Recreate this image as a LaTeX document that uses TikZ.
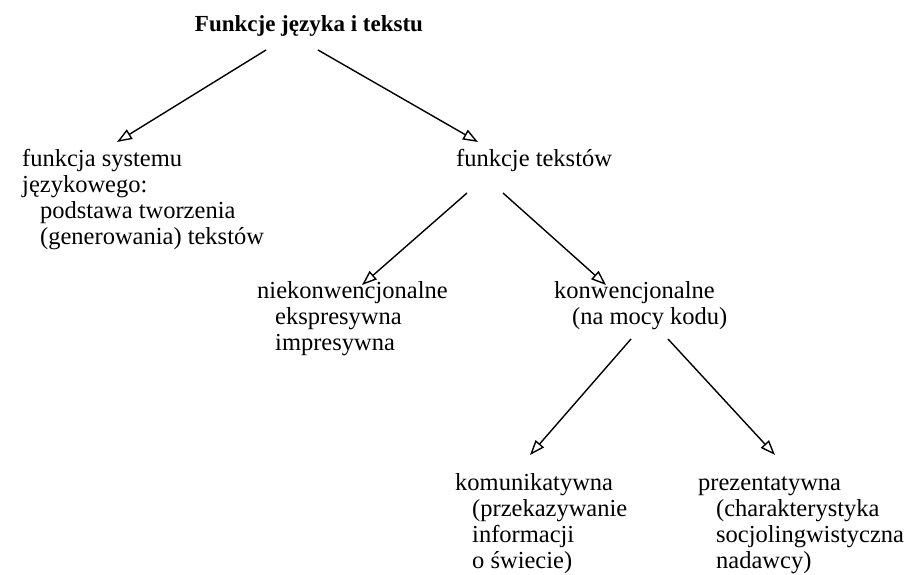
\documentclass[tikz,border=0pt]{standalone}
\usepackage{fontspec}
\setmainfont{Liberation Serif}
\usetikzlibrary{arrows.meta,calc}
\begin{document}
\begin{tikzpicture}[x=1pt,y=-1pt,
  txt/.style={anchor=base west, inner sep=0pt, align=left,
    font=\fontsize{24.5}{26}\selectfont},
  ttl/.style={anchor=base, inner sep=0pt,
    font=\bfseries\fontsize{23}{26}\selectfont},
  arr/.style={-{Triangle[open,length=15pt,width=11pt]}, line width=1.4pt}]
\useasboundingbox (0,0) rectangle (908,574);

% title and the two main branches (multi-line nodes sit on their last baseline)
\node[ttl] (title) at (309,31) {Funkcje języka i tekstu};
\node[txt] (sys) at (22,244) {funkcja systemu\\językowego:\\%
  \hspace*{18pt}podstawa tworzenia\\\hspace*{18pt}(generowania) tekstów};
\node[txt] (tekst) at (456,166) {funkcje tekstów};

% functions of texts
\node[txt] (niek) at (257,350) {niekonwencjonalne\\%
  \hspace*{18pt}ekspresywna\\\hspace*{18pt}impresywna};
\node[txt] (konw) at (554,324) {konwencjonalne\\\hspace*{18pt}(na mocy kodu)};

% conventional functions
\node[txt] (kom) at (455,568) {komunikatywna\\\hspace*{17pt}(przekazywanie\\%
  \hspace*{17pt}informacji\\\hspace*{17pt}o świecie)};
\node[txt] (prez) at (698,568) {prezentatywna\\\hspace*{18pt}(charakterystyka\\%
  \hspace*{18pt}socjolingwistyczna\\\hspace*{18pt}nadawcy)};

% connectors
\draw[arr] ($(title.base)+(-43,19)$) -- ($(sys.base west)+(95,-102)$);
\draw[arr] ($(title.base)+(9,19)$) -- ($(tekst.base west)+(22,-24)$);
\draw[arr] ($(tekst.base west)+(11,27)$) -- ($(niek.base west)+(105,-65)$);
\draw[arr] ($(tekst.base west)+(47,27)$) -- ($(konw.base west)+(52,-39)$);
\draw[arr] ($(konw.base west)+(77,15)$) -- ($(kom.base west)+(75,-113)$);
\draw[arr] ($(konw.base west)+(114,15)$) -- ($(prez.base west)+(77,-113)$);
\end{tikzpicture}
\end{document}
